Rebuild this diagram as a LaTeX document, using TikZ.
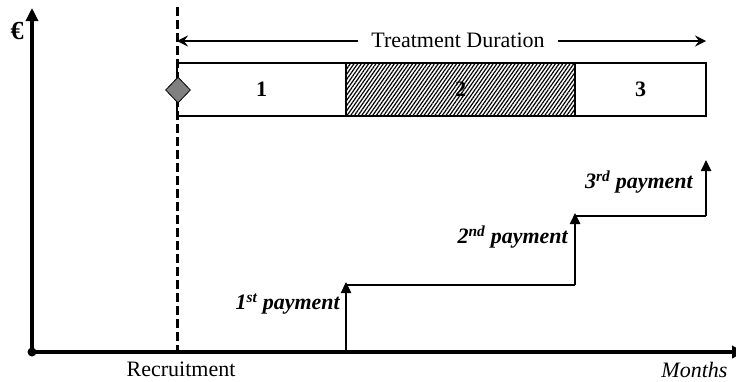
\documentclass[tikz,border=0pt]{standalone}
\usepackage{fontspec}
\setmainfont{Liberation Serif}
\usetikzlibrary{arrows.meta,shapes.geometric,patterns.meta}
\begin{document}
\begin{tikzpicture}[x=1bp,y=-1bp,
  every node/.style={font=\fontsize{22bp}{26bp}\selectfont},
  axis/.style={line width=4bp,-{Triangle[length=13bp,width=12bp]}},
  seg/.style={draw,line width=1.2bp,minimum height=53bp,inner sep=0pt,outer sep=0pt,font=\fontsize{22bp}{26bp}\selectfont\bfseries},
  stepline/.style={line width=1.6bp},
  steparrow/.style={line width=2.4bp,-{Triangle[length=11bp,width=10bp]}},
  paylabel/.style={anchor=east,inner sep=0pt,font=\fontsize{22bp}{26bp}\selectfont\bfseries\itshape},
  barb/.style={line width=2.6bp,{Stealth[length=11bp,width=11bp,inset=4bp]}-{Stealth[length=11bp,width=11bp,inset=4bp]}}]
\useasboundingbox (0,0) rectangle (736,381);

% axes
\coordinate (O) at (32,352);
\coordinate (ytop) at (32,8);
\coordinate (xend) at (745,352);
\draw[axis] (O) -- (ytop);
\draw[axis] (O) -- (xend);
\fill (O) circle (4.5bp);
\node[font=\fontsize{26bp}{30bp}\selectfont\bfseries] (euro) at (17,31) {€};
\node[anchor=east,font=\fontsize{22bp}{26bp}\selectfont\itshape] (months) at (731,370) {Months};

% recruitment marker
\coordinate (rtop) at (177,7);
\coordinate (rbot) at (177,352);
\draw[line width=3bp,dash pattern=on 9bp off 4bp] (rtop) -- (rbot);
\node (recruit) at (181,369) {Recruitment};

% treatment segments
\node[seg,minimum width=169bp] (s1) at (261.5,89.5) {1};
\node[seg,minimum width=229bp,pattern={Lines[angle=55,distance=3bp,line width=1.2bp]}] (s2) at (460.5,89.5) {};
\node[font=\fontsize{22bp}{26bp}\selectfont\bfseries] at (s2) {2};
\node[seg,minimum width=131bp] (s3) at (640.5,89.5) {3};
\node[diamond,draw,fill={rgb,255:red,128;green,128;blue,128},line width=0.8bp,
  minimum width=25bp,minimum height=26bp,inner sep=0pt] (start) at (178,90) {};

% treatment duration
\coordinate (tdl) at (177,41);
\coordinate (tdr) at (706,41);
\draw[barb] (tdl) -- (tdr);
\node[fill=white,inner xsep=13bp,inner ysep=2bp] (td) at (458,40) {Treatment Duration};

% payment steps
\coordinate (p1b) at (346,352);
\coordinate (p1t) at (346,282);
\coordinate (p2b) at (575,285);
\coordinate (p2t) at (575,213);
\coordinate (p3b) at (706,216);
\coordinate (p3t) at (706,160);
\draw[steparrow] (p1b) -- (p1t);
\draw[stepline] (345,285) -- (p2b);
\draw[steparrow] (p2b) -- (p2t);
\draw[stepline] (574,216) -- (p3b);
\draw[steparrow] (p3b) -- (p3t);
\node[paylabel] (l1) at (340,304) {1\textsuperscript{st} payment};
\node[paylabel] (l2) at (568,237) {2\textsuperscript{nd} payment};
\node[paylabel] (l3) at (693,182) {3\textsuperscript{rd} payment};
\end{tikzpicture}
\end{document}
